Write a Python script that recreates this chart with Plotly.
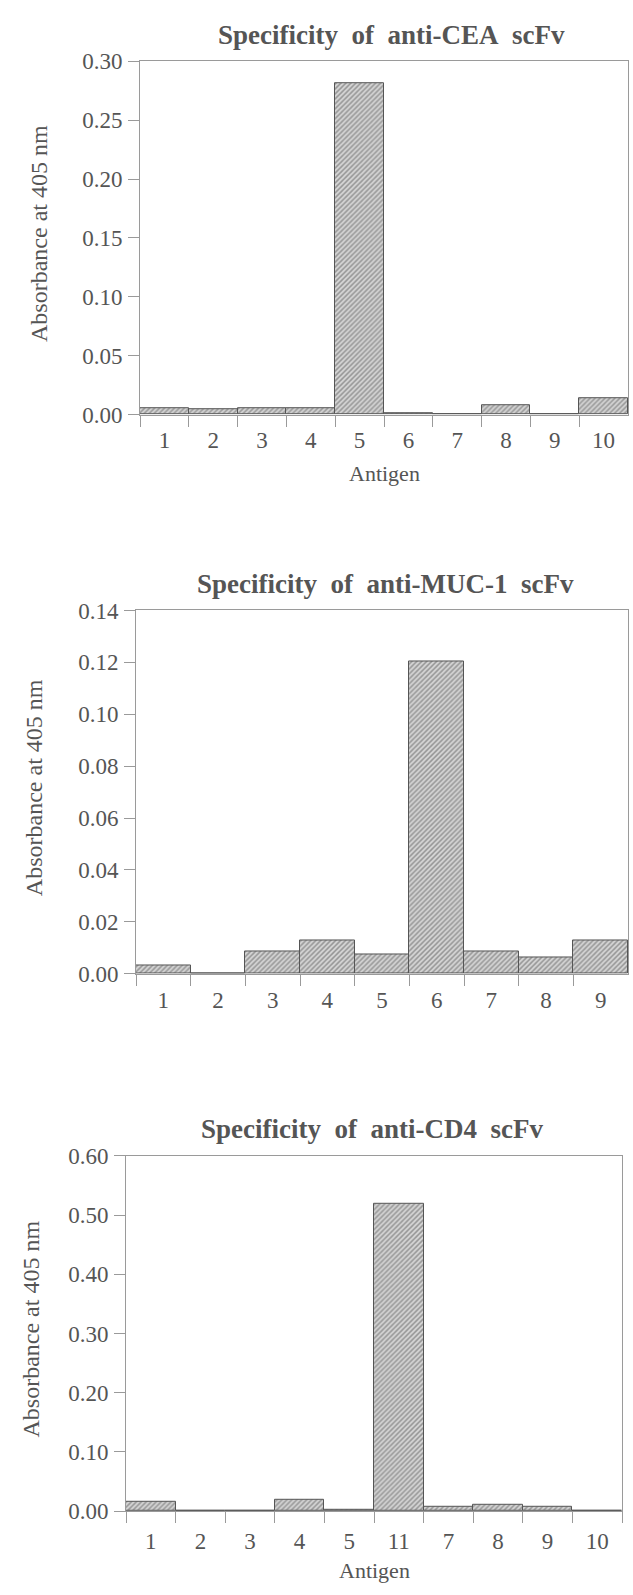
import plotly.graph_objects as go

W, H = 633, 1595

# ---- data ----
cea_antigens = ["1", "2", "3", "4", "5", "6", "7", "8", "9", "10"]
cea_abs = [0.0053, 0.0043, 0.0056, 0.0058, 0.281, 0.001, 0.0, 0.0077, 0.0, 0.0135]

muc_antigens = ["1", "2", "3", "4", "5", "6", "7", "8", "9"]
muc_abs = [0.003, 0.0, 0.0087, 0.0128, 0.0075, 0.1205, 0.0085, 0.0064, 0.0127]

cd4_antigens = ["1", "2", "3", "4", "5", "11", "7", "8", "9", "10"]
cd4_abs = [0.015, 0.0, 0.0, 0.020, 0.002, 0.519, 0.008, 0.010, 0.007, 0.0]

titles = ["Specificity of anti-CEA scFv", "Specificity of anti-MUC-1 scFv", "Specificity of anti-CD4 scFv"]
y_ticks = [[0, 0.05, 0.10, 0.15, 0.20, 0.25, 0.30],
           [0, 0.02, 0.04, 0.06, 0.08, 0.10, 0.12, 0.14],
           [0, 0.10, 0.20, 0.30, 0.40, 0.50, 0.60]]
y_ranges = [[0, 0.30], [0, 0.14], [0, 0.60]]
show_xtitle = [True, False, True]

# ---- layout geometry (pixels) ----
# (left, right, y_of_zero, y_of_top)
boxes = [(140, 628, 409, 50), (136, 628, 977, 608), (126, 622, 1523, 1162)]
title_dx = [7, 3, -2]
ytitle_x = [39, 34, 31]
xlab_standoff = [5, 6, 9]

TXT = "#555555"
LINE = "#9a9a9a"
FONT = "Liberation Serif, Times New Roman, serif"

fig = go.Figure()
series = [(cea_antigens, cea_abs), (muc_antigens, muc_abs), (cd4_antigens, cd4_abs)]
annotations = []
for i, ((cats, vals), box) in enumerate(zip(series, boxes)):
    n = "" if i == 0 else str(i + 1)
    fig.add_trace(go.Bar(
        x=cats, y=vals, xaxis="x" + n, yaxis="y" + n,
        marker=dict(color="#c8c8c8",
                    line=dict(color="#555555", width=1),
                    pattern=dict(shape="/", fgcolor="#5a5a5a", bgcolor="#d4d4d4",
                                 size=3.5, solidity=0.45)),
        showlegend=False,
    ))
    l, r, y0, y1 = box
    xd = [l / W, r / W]
    yd = [1 - y0 / H, 1 - y1 / H]
    fig.layout["xaxis" + n] = dict(
        domain=xd, anchor="y" + n, type="category",
        showline=True, linecolor=LINE, linewidth=1, mirror=True,
        ticks="outside", tickson="boundaries", ticklen=11, tickcolor=LINE,
        tickfont=dict(family=FONT, size=23, color=TXT),
        ticklabelstandoff=xlab_standoff[i],
        showgrid=False, zeroline=False, fixedrange=True,
    )
    fig.layout["yaxis" + n] = dict(
        domain=yd, anchor="x" + n, range=y_ranges[i],
        tickvals=y_ticks[i], tickformat=".2f",
        showline=True, linecolor=LINE, linewidth=1, mirror=True,
        ticks="outside", ticklen=11, tickcolor=LINE,
        tickfont=dict(family=FONT, size=23, color=TXT),
        ticklabelstandoff=1,
        showgrid=False, zeroline=False, fixedrange=True,
    )
    # chart title
    annotations.append(dict(
        text="<b>" + titles[i].replace(" ", "&nbsp;&nbsp;") + "</b>",
        xref="paper", yref="paper", x=((l + r) / 2 + title_dx[i]) / W, y=1 - (y1 - 27) / H,
        xanchor="center", yanchor="middle", showarrow=False,
        font=dict(family=FONT, size=27, color=TXT),
    ))
    # y-axis title
    annotations.append(dict(
        text="Absorbance at 405 nm", textangle=-90,
        xref="paper", yref="paper", x=ytitle_x[i] / W, y=1 - ((y0 + y1) / 2 - 4) / H,
        xanchor="center", yanchor="middle", showarrow=False,
        font=dict(family=FONT, size=24, color=TXT),
    ))
    if show_xtitle[i]:
        annotations.append(dict(
            text="Antigen", xref="paper", yref="paper",
            x=((l + r) / 2) / W, y=1 - (y0 + 60) / H,
            xanchor="center", yanchor="middle", showarrow=False,
            font=dict(family=FONT, size=22, color=TXT),
        ))

fig.update_layout(
    width=W, height=H, margin=dict(l=0, r=0, t=0, b=0),
    paper_bgcolor="white", plot_bgcolor="white",
    bargap=0, annotations=annotations,
)

fig.write_html("out.html")
